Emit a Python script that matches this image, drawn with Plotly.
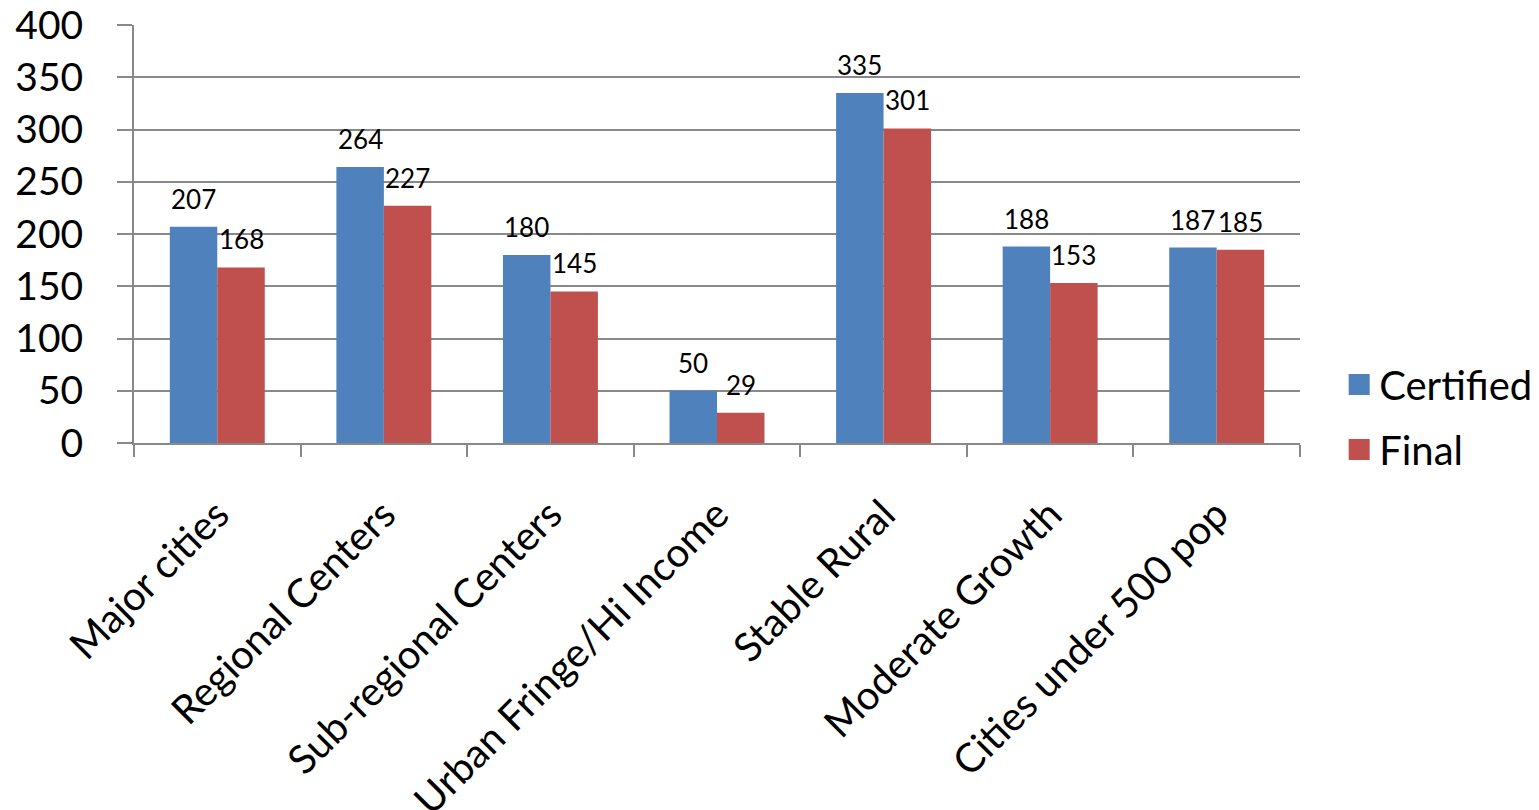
import plotly.graph_objects as go

categories = ["Major cities", "Regional Centers", "Sub-regional Centers",
              "Urban Fringe/Hi Income", "Stable Rural", "Moderate Growth",
              "Cities under 500 pop"]
certified = [207, 264, 180, 50, 335, 188, 187]
final = [168, 227, 145, 29, 301, 153, 185]
series_names = ["Certified", "Final"]
colors = ["#4F81BD", "#C0504D"]
y_ticks = [0, 50, 100, 150, 200, 250, 300, 350, 400]

FONT = "Lato"
GRID = "#898989"

fig = go.Figure()
for name, vals, col in zip(series_names, [certified, final], colors):
    fig.add_trace(go.Bar(x=categories, y=vals, name=name, marker_color=col,
                         marker_line_width=0, showlegend=False))
    # legend proxy with a larger square
    fig.add_trace(go.Scatter(x=[None], y=[None], mode="markers", name=name,
                             marker=dict(symbol="square", size=16, color=col,
                                         line=dict(color=col, width=5)),
                             legendgroup=name))

bargap = 0.43
plot_w = 1539 - 134 - 239
bar_px = plot_w / len(categories) * (1 - bargap) / 2

annotations = []
for vals, sign in [(certified, -1), (final, 1)]:
    for c, v in zip(categories, vals):
        annotations.append(dict(x=c, y=v, xref="x", yref="y", text=str(v),
                                showarrow=False, yanchor="bottom",
                                xshift=sign * bar_px / 2, yshift=10,
                                font=dict(family=FONT, size=26, color="black")))

fig.update_layout(
    width=1539, height=810,
    margin=dict(l=134, r=239, t=25, b=367, autoexpand=False),
    paper_bgcolor="white", plot_bgcolor="white",
    barmode="group", bargap=bargap, bargroupgap=0,
    font=dict(family=FONT, color="black"),
    annotations=annotations,
    legend=dict(x=1.0336, y=0.062, xanchor="left", yanchor="middle",
                font=dict(family=FONT, size=40, color="black"),
                traceorder="grouped", tracegroupgap=10,
                bgcolor="rgba(0,0,0,0)"),
    xaxis=dict(type="category", categoryorder="array", categoryarray=categories,
               showline=True, linecolor=GRID, linewidth=2, automargin=False,
               ticks="outside", tickson="boundaries", ticklen=12,
               tickcolor=GRID, tickwidth=2, tickangle=-45,
               tickfont=dict(family=FONT, size=40, color="black"),
               ticklabelstandoff=30, showgrid=False),
    yaxis=dict(range=[0, 400], tickvals=y_ticks, showgrid=True,
               gridcolor=GRID, gridwidth=1.5, zeroline=False, automargin=False,
               showline=True, linecolor=GRID, linewidth=2,
               ticks="outside", ticklen=15, tickcolor=GRID, tickwidth=1.5,
               tickfont=dict(family=FONT, size=39, color="black"),
               ticklabelstandoff=26),
)

fig.write_html("out.html")
